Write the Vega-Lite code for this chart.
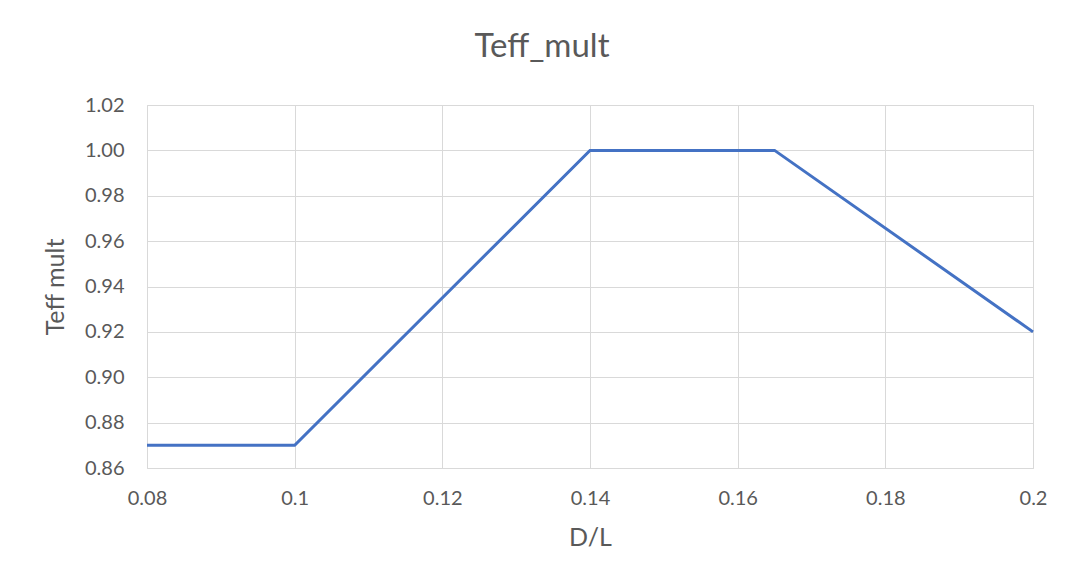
{
  "$schema": "https://vega.github.io/schema/vega-lite/v6.json",
  "autosize": {"type": "none"},
  "width": 886,
  "height": 363,
  "padding": {"left": 147, "top": 105, "right": 40, "bottom": 113},
  "background": "white",
  "title": {"text": "Teff_mult", "fontSize": 33, "font": "Lato", "fontWeight": "normal", "color": "#595959", "anchor": "middle", "dx": -48, "offset": 31},
  "config": {
    "view": {"stroke": "#d9d9d9", "strokeWidth": 1},
    "axis": {"labelFont": "Lato", "titleFont": "Lato", "labelColor": "#595959", "titleColor": "#595959", "labelFontSize": 20, "titleFontSize": 25, "titleFontWeight": "normal", "gridColor": "#d9d9d9", "gridWidth": 1, "domain": false, "ticks": false, "labelFlush": false}
  },
  "data": {"values": [
    {"DL": 0.08, "teff": 0.87},
    {"DL": 0.1, "teff": 0.87},
    {"DL": 0.14, "teff": 1.0},
    {"DL": 0.165, "teff": 1.0},
    {"DL": 0.2, "teff": 0.92}
  ]},
  "mark": {"type": "line", "color": "#4472C4", "strokeWidth": 3},
  "encoding": {
    "x": {"field": "DL", "type": "quantitative", "title": "D/L", "scale": {"domain": [0.08, 0.2], "nice": false, "zero": false}, "axis": {"values": [0.08, 0.1, 0.12, 0.14, 0.16, 0.18, 0.2], "format": "~g", "labelPadding": 20, "titlePadding": 17}},
    "y": {"field": "teff", "type": "quantitative", "title": "Teff mult", "scale": {"domain": [0.86, 1.02], "nice": false, "zero": false}, "axis": {"values": [0.86, 0.88, 0.9, 0.92, 0.94, 0.96, 0.98, 1.0, 1.02], "format": ".2f", "labelPadding": 23, "titlePadding": 16}}
  }
}
